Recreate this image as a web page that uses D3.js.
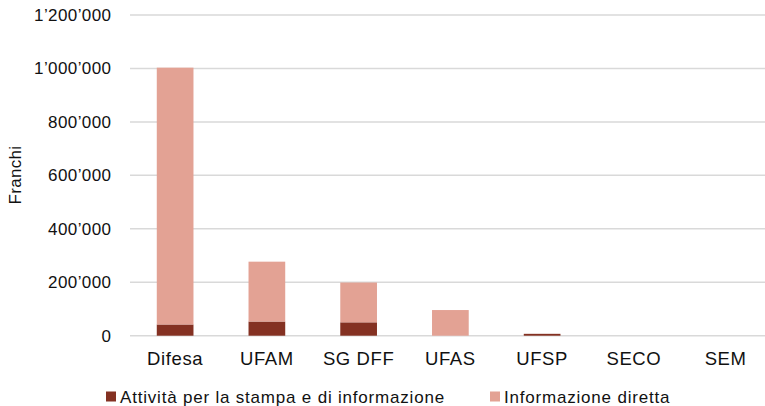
<!DOCTYPE html>
<html>
<head>
<meta charset="utf-8">
<script src="https://cdn.jsdelivr.net/npm/d3@7"></script>
<style>
  body { margin: 0; background: #fff; }
  svg { display: block; font-family: "Liberation Sans", Arial, sans-serif; }
</style>
</head>
<body>
<script>
// dati
var categorie = ["Difesa", "UFAM", "SG DFF", "UFAS", "UFSP", "SECO", "SEM"];
var serie = ["Attività per la stampa e di informazione", "Informazione diretta"];
var attivita = [42000, 53000, 50000, 0, 7000, 0, 0];
var informazione = [961000, 224000, 149000, 96000, 0, 0, 0];
var yTicks = [0, 200000, 400000, 600000, 800000, 1000000, 1200000];
var colori = ["#843122", "#e3a294"];

var width = 765, height = 406;

var svg = d3.select("body").append("svg")
    .attr("width", width)
    .attr("height", height);

var x = d3.scaleBand()
    .domain(categorie)
    .range([129.25, 771.5])
    .paddingInner(0.6)
    .paddingOuter(0.3);

var y = d3.scaleLinear()
    .domain([0, 1200000])
    .range([335.7, 15]);

// formato svizzero con apostrofo
var loc = d3.formatLocale({ decimal: ".", thousands: "\u2019", grouping: [3], currency: ["", ""] });
var fmt = loc.format(",d");

// griglia
svg.append("g")
  .selectAll("line")
  .data(yTicks)
  .enter().append("line")
    .attr("x1", 130).attr("x2", 765)
    .attr("y1", function(d) { return y(d); })
    .attr("y2", function(d) { return y(d); })
    .attr("stroke", "#d9d9d9")
    .attr("stroke-width", 1.5);

// etichette asse y
svg.append("g")
  .selectAll("text")
  .data(yTicks)
  .enter().append("text")
    .attr("x", 111.4)
    .attr("y", function(d) { return y(d); })
    .attr("dy", "0.35em")
    .attr("text-anchor", "end")
    .attr("font-size", 17)
    .attr("letter-spacing", 0.4)
    .attr("fill", "#111")
    .text(function(d) { return fmt(d); });

// titolo asse y
svg.append("text")
    .attr("transform", "translate(21,175) rotate(-90)")
    .attr("text-anchor", "middle")
    .attr("font-size", 17)
    .attr("letter-spacing", 0.3)
    .attr("fill", "#111")
    .text("Franchi");

// barre impilate
var righe = categorie.map(function(c, i) {
  return { cat: c, a: attivita[i], b: informazione[i] };
});
var strati = d3.stack().keys(["a", "b"])(righe);

svg.append("g")
  .selectAll("g")
  .data(strati)
  .enter().append("g")
    .attr("fill", function(d, i) { return colori[i]; })
  .selectAll("rect")
  .data(function(d) { return d; })
  .enter().append("rect")
    .attr("x", function(d) { return x(d.data.cat); })
    .attr("width", x.bandwidth())
    .attr("y", function(d) { return y(d[1]); })
    .attr("height", function(d) { return y(d[0]) - y(d[1]); });

// etichette categorie
svg.append("g")
  .selectAll("text")
  .data(categorie)
  .enter().append("text")
    .attr("x", function(d) { return x(d) + x.bandwidth() / 2; })
    .attr("y", 365)
    .attr("text-anchor", "middle")
    .attr("font-size", 18.5)
    .attr("letter-spacing", 0.6)
    .attr("fill", "#111")
    .text(function(d) { return d; });

// legenda
var legX = [106, 490];
var leg = svg.append("g")
  .selectAll("g")
  .data(serie)
  .enter().append("g")
    .attr("transform", function(d, i) { return "translate(" + legX[i] + ",0)"; });
leg.append("rect")
    .attr("y", 391.5)
    .attr("width", 10).attr("height", 10)
    .attr("fill", function(d, i) { return colori[i]; });
leg.append("text")
    .attr("x", 14)
    .attr("y", 403)
    .attr("font-size", 17)
    .attr("letter-spacing", 0.8)
    .attr("fill", "#111")
    .text(function(d) { return d; });
</script>
</body>
</html>
